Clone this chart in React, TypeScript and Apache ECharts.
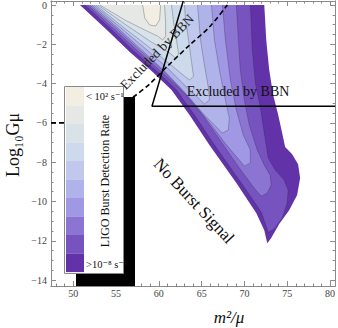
import { useEffect, useRef } from "react";
import * as echarts from "echarts";

const SERIF = "'Liberation Serif', 'DejaVu Serif', serif";

const X_RANGE = [47.4, 80.6];
const Y_RANGE = [-14.3, 0.2];
const X_MAJOR = [50, 55, 60, 65, 70, 75, 80];
const X_MINOR = [48, 49, 51, 52, 53, 54, 56, 57, 58, 59, 61, 62, 63, 64, 66, 67, 68, 69, 71, 72, 73, 74, 76, 77, 78, 79];
const Y_MAJOR = [-14, -12, -10, -8, -6, -4, -2, 0];
const Y_MINOR = [-13.5, -13, -12.5, -11.5, -11, -10.5, -9.5, -9, -8.5, -7.5, -7, -6.5, -5.5, -5, -4.5, -3.5, -3, -2.5, -1.5, -1, -0.5];

// Contour regions of the LIGO burst detection rate, [m^2/mu, log10 G mu]
// outermost (lowest rate) first
const BAND_10 = [[50.78, 0], [53.69, -1.17], [56.6, -2.39], [59.16, -3.36], [61.49, -4.33], [63.59, -5.6], [65.91, -7.13], [69.06, -9.06], [71.38, -10.59], [72.32, -11.46], [72.67, -12.12], [73.13, -11.86], [74.06, -11.15], [75.23, -10.44], [76.16, -9.67], [76.51, -8.81], [76.27, -8.1], [75.58, -7.59], [74.76, -7.23], [74.41, -6.52], [73.95, -5.6], [73.36, -4.58], [72.9, -3.31], [72.55, -1.78], [72.32, 0]];
const BAND_9 = [[51.36, 0], [54.27, -1.17], [57.18, -2.39], [59.74, -3.36], [62.07, -4.33], [64.17, -5.6], [66.5, -7.13], [69.64, -9.06], [71.97, -10.54], [72.78, -11.56], [73.48, -11.4], [74.41, -10.85], [74.99, -10.08], [75.11, -9.42], [74.64, -8.91], [73.6, -8.4], [72.78, -7.79], [72.32, -6.52], [71.85, -5.19], [71.27, -3.97], [70.92, -2.29], [70.69, 0]];
const BAND_8 = [[51.71, 0], [54.62, -1.17], [57.65, -2.39], [60.33, -3.41], [62.89, -4.43], [65.1, -5.6], [67.31, -6.98], [69.41, -8.3], [71.15, -9.32], [71.97, -9.73], [72.67, -9.57], [73.13, -9.16], [73.01, -8.66], [72.32, -8.15], [71.5, -7.38], [70.57, -6.11], [69.99, -4.84], [69.52, -3.31], [69.29, -1.78], [69.06, 0]];
const BAND_7 = [[51.94, 0], [54.85, -1.12], [57.76, -2.29], [60.67, -3.41], [63.35, -4.63], [65.68, -5.86], [68.01, -7.18], [69.41, -7.89], [69.99, -8.2], [70.69, -8.04], [70.69, -7.38], [69.87, -6.62], [69.06, -5.35], [68.36, -3.82], [67.78, -1.78], [67.43, 0]];
const BAND_6 = [[52.18, 0], [55.09, -1.12], [58.0, -2.29], [60.67, -3.36], [63.0, -4.43], [65.33, -5.6], [66.84, -6.26], [67.43, -6.52], [68.12, -6.36], [68.24, -5.75], [67.78, -4.84], [67.08, -3.31], [66.5, -1.78], [66.15, 0]];
const BAND_5 = [[52.41, 0], [55.44, -1.12], [58.35, -2.19], [61.02, -3.21], [63.35, -4.23], [64.75, -4.79], [65.33, -5.04], [65.91, -4.84], [65.8, -4.23], [65.33, -3.05], [64.87, -1.78], [64.52, 0]];
const BAND_4 = [[52.64, 0], [55.67, -1.07], [58.7, -2.09], [61.26, -3.0], [63.0, -3.62], [63.59, -3.82], [64.05, -3.62], [63.82, -2.9], [63.47, -1.78], [63.12, -0.76], [63.0, 0]];
const BAND_3 = [[52.88, 0], [56.02, -0.97], [58.93, -1.83], [61.26, -2.44], [61.96, -2.7], [62.3, -2.49], [62.07, -1.78], [61.72, -0.87], [61.49, 0]];
const BAND_2 = [[53.11, 0], [56.02, -0.76], [58.35, -1.27], [59.86, -1.58], [60.44, -1.78], [60.79, -1.58], [60.79, -0.87], [60.67, 0]];
const BAND_1 = [[58.11, 0], [58.35, -0.66], [58.93, -1.02], [59.63, -1.07], [60.09, -0.76], [60.21, 0]];

const BANDS = [BAND_10, BAND_9, BAND_8, BAND_7, BAND_6, BAND_5, BAND_4, BAND_3, BAND_2, BAND_1];
const BAND_COLORS = ["#6232a8", "#7753c0", "#8c75d2", "#a098e4", "#b0b3ea", "#c0c9ed", "#ccdaec", "#d8e2e8", "#e6e8e6", "#f2eee2"];

// BBN exclusion boundaries
const BBN_DASHED = [[47.4, -6.0], [48.92, -6.0], [50.78, -5.96], [53.11, -5.7], [55.2, -5.19], [57.18, -4.63], [58.93, -4.02], [61.02, -3.11], [63.59, -2.04], [65.91, -1.12], [68.01, 0]];
const BBN_SOLID = [[62.85, 0.2], [59.2, -5.15], [80.6, -5.15]];

const LEGEND_TOP = "< 10² s⁻¹";
const LEGEND_BOTTOM = ">10⁻⁸ s⁻¹";
const LEGEND_TITLE = "LIGO Burst Detection Rate";

const AXIS_COLOR = "#8a8a8a";

function xAxis(position: string, ticks: number[], len: number, labels: boolean) {
  return {
    type: "value",
    position,
    min: X_RANGE[0],
    max: X_RANGE[1],
    axisLine: { show: true, onZero: false, lineStyle: { color: AXIS_COLOR, width: 1 } },
    axisTick: { show: true, inside: true, length: len, customValues: ticks, lineStyle: { color: AXIS_COLOR } },
    axisLabel: labels
      ? { show: true, customValues: X_MAJOR, fontSize: 10, fontFamily: SERIF, color: "#444", margin: 2 }
      : { show: false },
    splitLine: { show: false },
  };
}

function yAxis(position: string, ticks: number[], len: number, labels: boolean) {
  return {
    type: "value",
    position,
    min: Y_RANGE[0],
    max: Y_RANGE[1],
    axisLine: { show: true, onZero: false, lineStyle: { color: AXIS_COLOR, width: 1 } },
    axisTick: { show: true, inside: true, length: len, customValues: ticks, lineStyle: { color: AXIS_COLOR } },
    axisLabel: labels
      ? {
          show: true,
          customValues: Y_MAJOR,
          fontSize: 10,
          fontFamily: SERIF,
          color: "#444",
          margin: 4,
          formatter: (v: number) => (v < 0 ? "\u2212" + Math.abs(v) : String(v)),
        }
      : { show: false },
    splitLine: { show: false },
  };
}

export default function App() {
  const ref = useRef<HTMLDivElement>(null);
  useEffect(() => {
    if (!ref.current) return;
    const chart = echarts.init(ref.current, null, { renderer: "svg" });
    const legendCells = BAND_COLORS.slice()
      .reverse()
      .map((c, i) => ({
        type: "rect",
        shape: { x: 66, y: 87 + i * 18.5, width: 18, height: 18.6 },
        style: { fill: c },
        z: 102,
      }));
    chart.setOption({
      animation: false,
      backgroundColor: "#fff",
      grid: { left: 51, top: 1, right: 2, bottom: 42 },
      xAxis: [
        xAxis("bottom", X_MAJOR, 5, true),
        xAxis("bottom", X_MINOR, 2.5, false),
        xAxis("top", X_MAJOR, 5, false),
        xAxis("top", X_MINOR, 2.5, false),
      ],
      yAxis: [
        yAxis("left", Y_MAJOR, 5, true),
        yAxis("left", Y_MINOR, 2.5, false),
        yAxis("right", Y_MAJOR, 5, false),
        yAxis("right", Y_MINOR, 2.5, false),
      ],
      series: [
        {
          type: "custom",
          xAxisIndex: 0,
          yAxisIndex: 0,
          clip: true,
          data: BANDS.map((b) => b[0]),
          renderItem: (params: any, api: any) => {
            const i = params.dataIndex;
            const pts = BANDS[i].map((p) => api.coord(p));
            const children: any[] = [
              { type: "polygon", shape: { points: pts }, style: { fill: BAND_COLORS[i] } },
            ];
            if (i > 0) {
              children.push({
                type: "polyline",
                shape: { points: pts },
                style: { stroke: "rgba(40,40,60,0.5)", lineWidth: 0.6, fill: null },
              });
            }
            return { type: "group", children };
          },
        },
        {
          type: "line",
          xAxisIndex: 0,
          yAxisIndex: 0,
          data: BBN_DASHED,
          showSymbol: false,
          smooth: 0.3,
          lineStyle: { color: "#000", width: 1.6, type: [5, 3] },
        },
        {
          type: "line",
          xAxisIndex: 0,
          yAxisIndex: 0,
          data: BBN_SOLID,
          showSymbol: false,
          lineStyle: { color: "#000", width: 1.5 },
        },
      ],
      graphic: [
        { type: "rect", shape: { x: 76, y: 97, width: 59, height: 189 }, style: { fill: "#000" }, z: 100 },
        {
          type: "rect",
          shape: { x: 64.5, y: 86.5, width: 59, height: 187 },
          style: { fill: "#fff", stroke: "#888", lineWidth: 1 },
          z: 101,
        },
        ...legendCells,
        {
          type: "text",
          x: 86,
          y: 96,
          z: 103,
          style: { text: LEGEND_TOP, font: `10.5px ${SERIF}`, fill: "#111", align: "left", verticalAlign: "middle" },
        },
        {
          type: "text",
          x: 86,
          y: 264,
          z: 103,
          style: { text: LEGEND_BOTTOM, font: `10.5px ${SERIF}`, fill: "#111", align: "left", verticalAlign: "middle" },
        },
        {
          type: "text",
          x: 105,
          y: 181,
          rotation: Math.PI / 2,
          z: 103,
          style: { text: LEGEND_TITLE, font: `12px ${SERIF}`, fill: "#111", align: "center", verticalAlign: "middle" },
        },
        {
          type: "text",
          x: 157,
          y: 52,
          rotation: 0.8,
          z: 103,
          style: { text: "Excluded by BBN", font: `13.5px ${SERIF}`, fill: "#222", align: "center", verticalAlign: "middle" },
        },
        {
          type: "text",
          x: 238,
          y: 91,
          z: 103,
          style: { text: "Excluded by BBN", font: `14px ${SERIF}`, fill: "#111", align: "center", verticalAlign: "middle" },
        },
        {
          type: "text",
          x: 194,
          y: 201,
          rotation: -0.82,
          z: 103,
          style: { text: "No Burst Signal", font: `17px ${SERIF}`, fill: "#111", align: "center", verticalAlign: "middle" },
        },
        {
          type: "text",
          x: 229,
          y: 317,
          z: 103,
          style: { text: "m²/μ", font: `italic 17px ${SERIF}`, fill: "#111", align: "center", verticalAlign: "middle" },
        },
        {
          type: "text",
          x: 13,
          y: 145,
          rotation: Math.PI / 2,
          z: 103,
          style: { text: "Log₁₀Gμ", font: `18px ${SERIF}`, fill: "#111", align: "center", verticalAlign: "middle" },
        },
      ],
    });
    return () => chart.dispose();
  }, []);
  return (
    <div
      ref={ref}
      style={{ position: "fixed", left: 0, top: 0, width: 338, height: 328, background: "#fff" }}
    />
  );
}
